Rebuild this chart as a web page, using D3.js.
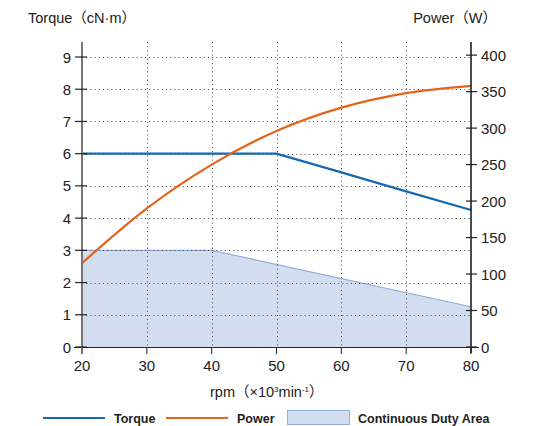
<!DOCTYPE html>
<html><head><meta charset="utf-8">
<script src="https://cdn.jsdelivr.net/npm/d3@7"></script>
<style>
body{margin:0;background:#fff;}
text{font-family:"Liberation Sans",Arial,sans-serif;fill:#222;}
.cjk{font-family:"Noto Sans CJK JP",sans-serif;}
</style></head>
<body><svg id="c" width="538" height="426"></svg>
<script>
const rpm = [20, 30, 40, 50, 60, 70, 80];
const torque = [6, 6, 6, 6, 5.42, 4.83, 4.25];
const power = [115, 190, 250, 296, 328, 348, 358];
const dutyRpm = [20, 40, 80];
const duty = [3, 3, 1.25];
const xTicks = [20, 30, 40, 50, 60, 70, 80];
const leftTicks = [0, 1, 2, 3, 4, 5, 6, 7, 8, 9];
const rightTicks = [0, 50, 100, 150, 200, 250, 300, 350, 400];

const svg = d3.select("#c");
const L = 82, R = 471, T = 42, B = 347;
const x = d3.scaleLinear().domain([20, 80]).range([L, R]);
const yL = d3.scaleLinear().domain([0, 9.466]).range([B, T]);
const yR = d3.scaleLinear().domain([0, 418]).range([B, T]);

// continuous duty area
const dutyData = dutyRpm.map((r, i) => ({r, v: duty[i]}));
svg.append("path").datum(dutyData)
  .attr("d", d3.area().x(d => x(d.r)).y0(yL(0)).y1(d => yL(d.v)))
  .attr("fill", "#d2ddef");
svg.append("path").datum(dutyData)
  .attr("d", d3.line().x(d => x(d.r)).y(d => yL(d.v)))
  .attr("fill", "none").attr("stroke", "#8eaedb").attr("stroke-width", 1.2);

// grid
const grid = svg.append("g").attr("stroke", "#444").attr("stroke-width", 1).attr("stroke-dasharray", "1,3.2");
leftTicks.filter(t => t > 0).forEach(t => {
  grid.append("line").attr("x1", L).attr("x2", R).attr("y1", Math.round(yL(t)) + 0.5).attr("y2", Math.round(yL(t)) + 0.5);
});
xTicks.filter(t => t > 20 && t < 80).forEach(t => {
  grid.append("line").attr("x1", Math.round(x(t)) + 0.5).attr("x2", Math.round(x(t)) + 0.5).attr("y1", T).attr("y2", B);
});

// lines
const tData = rpm.map((r, i) => ({r, v: torque[i]}));
svg.append("path").datum(tData)
  .attr("d", d3.line().x(d => x(d.r)).y(d => yL(d.v)))
  .attr("fill", "none").attr("stroke", "#1569b0").attr("stroke-width", 2.2);
const pData = rpm.map((r, i) => ({r, v: power[i]}));
svg.append("path").datum(pData)
  .attr("d", d3.line().curve(d3.curveMonotoneX).x(d => x(d.r)).y(d => yR(d.v)))
  .attr("fill", "none").attr("stroke", "#e5641a").attr("stroke-width", 2.2);

// axes
const ax = svg.append("g");
ax.append("line").attr("x1", L - 8).attr("x2", R + 8).attr("y1", B + 0.5).attr("y2", B + 0.5).attr("stroke", "#222").attr("stroke-width", 1.2);
xTicks.forEach(t => {
  ax.append("line").attr("x1", x(t)).attr("x2", x(t)).attr("y1", B).attr("y2", B + 7).attr("stroke", "#222").attr("stroke-width", 1);
  ax.append("text").attr("x", x(t)).attr("y", B + 24).attr("text-anchor", "middle").attr("font-size", 15).text(t);
});
ax.append("line").attr("x1", L).attr("x2", L).attr("y1", T).attr("y2", B + 7).attr("stroke", "#777").attr("stroke-width", 2);
leftTicks.forEach(t => {
  ax.append("line").attr("x1", L - 7).attr("x2", L + 5).attr("y1", yL(t)).attr("y2", yL(t)).attr("stroke", "#222").attr("stroke-width", 1.2);
  ax.append("text").attr("x", L - 11).attr("y", yL(t) + 5.5).attr("text-anchor", "end").attr("font-size", 15).text(t);
});
ax.append("line").attr("x1", R).attr("x2", R).attr("y1", T).attr("y2", B + 6).attr("stroke", "#111").attr("stroke-width", 1.5);
rightTicks.forEach(t => {
  ax.append("line").attr("x1", R - 5).attr("x2", R + 6).attr("y1", yR(t)).attr("y2", yR(t)).attr("stroke", "#222").attr("stroke-width", 1.2);
  ax.append("text").attr("x", R + 10).attr("y", yR(t) + 5.5).attr("text-anchor", "start").attr("font-size", 15).text(t);
});

// titles
const t1 = svg.append("text").attr("x", 28).attr("y", 23).attr("font-size", 14.5);
t1.append("tspan").text("Torque");
t1.append("tspan").attr("class", "cjk").text("（");
t1.append("tspan").text("cN·m");
t1.append("tspan").attr("class", "cjk").text("）");
const t2 = svg.append("text").attr("x", 497).attr("y", 23).attr("text-anchor", "end").attr("font-size", 14.5);
t2.append("tspan").text("Power");
t2.append("tspan").attr("class", "cjk").text("（");
t2.append("tspan").text("W");
t2.append("tspan").attr("class", "cjk").text("）");
const xl = svg.append("text").attr("x", 210).attr("y", 397).attr("text-anchor", "start").attr("font-size", 14.5);
xl.append("tspan").text("rpm");
xl.append("tspan").attr("class", "cjk").text("（");
xl.append("tspan").text("×10");
xl.append("tspan").attr("font-size", 8).attr("dy", -5).text("3");
xl.append("tspan").attr("dy", 5).text("min");
xl.append("tspan").attr("font-size", 8).attr("dy", -5).text("-1");
xl.append("tspan").attr("class", "cjk").attr("dy", 5).text("）");

// legend
const lg = svg.append("g");
lg.append("line").attr("x1", 43).attr("x2", 105).attr("y1", 418).attr("y2", 418).attr("stroke", "#1569b0").attr("stroke-width", 2.2);
lg.append("text").attr("x", 114).attr("y", 422.5).attr("font-size", 12.5).attr("font-weight", "bold").text("Torque");
lg.append("line").attr("x1", 166).attr("x2", 228).attr("y1", 418).attr("y2", 418).attr("stroke", "#e5641a").attr("stroke-width", 2.2);
lg.append("text").attr("x", 237).attr("y", 422.5).attr("font-size", 12.5).attr("font-weight", "bold").text("Power");
lg.append("rect").attr("x", 287.5).attr("y", 410.5).attr("width", 62).attr("height", 14).attr("fill", "#d2ddef").attr("stroke", "#8eaedb").attr("stroke-width", 1);
lg.append("text").attr("x", 358).attr("y", 422.5).attr("font-size", 12.5).attr("font-weight", "bold").text("Continuous Duty Area");
</script></body></html>
